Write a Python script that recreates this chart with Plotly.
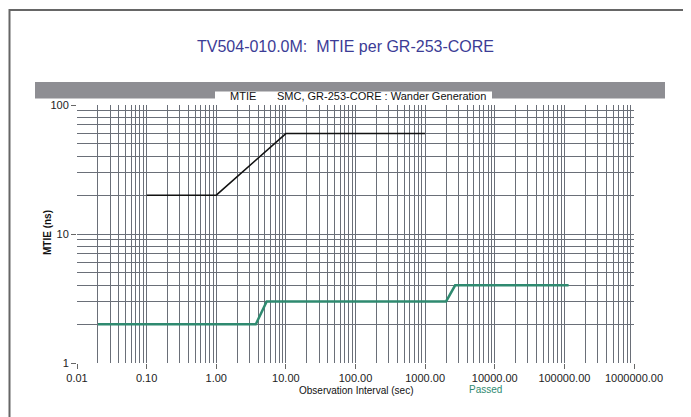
import plotly.graph_objects as go

# ---- data ----
limit_x = [0.1, 1.0, 10.0, 1000.0]
limit_y = [20, 20, 60, 60]

meas_x = [0.02, 3.7, 5.3, 2000.0, 2700.0, 115000.0]
meas_y = [2, 2, 3, 3, 4, 4]

x_tickvals = [0.01, 0.1, 1, 10, 100, 1000, 10000, 100000, 1000000]
x_ticktext = ["0.01", "0.10", "1.00", "10.00", "100.00", "1000.00",
              "10000.00", "100000.00", "1000000.00"]
y_tickvals = [1, 10, 100]
y_ticktext = ["1", "10", "100"]

FONT = "Liberation Sans, Arial, sans-serif"
GRID = "#6a6f78"
GREEN = "#2f8a70"

fig = go.Figure()
fig.add_trace(go.Scatter(x=limit_x, y=limit_y, mode="lines",
                         line=dict(color="#111111", width=1.5), hoverinfo="skip"))
fig.add_trace(go.Scatter(x=meas_x, y=meas_y, mode="lines",
                         line=dict(color=GREEN, width=2.5), hoverinfo="skip"))

OFF = 8  # page body margin
W, H = 691 - OFF, 417 - OFF
PL, PR, PT, PB = 77, 634, 105, 363  # plot area in reference pixels
L = PL - OFF
R = W - (PR - OFF)
T = PT - OFF
B = H - (PB - OFF)
pw, ph = PR - PL, PB - PT


def px(x):
    return (x - PL) / pw


def py(y):
    return (PB - y) / ph


fig.update_layout(
    width=W, height=H,
    margin=dict(l=L, r=R, t=T, b=B, pad=0),
    paper_bgcolor="white", plot_bgcolor="white",
    showlegend=False,
    font=dict(family=FONT, size=11, color="#222222"),
    xaxis=dict(
        type="log", range=[-2, 6],
        tickvals=x_tickvals, ticktext=x_ticktext,
        ticks="outside", ticklen=5, tickcolor="#666666", tickwidth=1,
        showgrid=True, gridcolor=GRID, gridwidth=1,
        minor=dict(dtick="D1", showgrid=True, gridcolor=GRID, gridwidth=1, ticks=""),
        zeroline=False, showline=False,
        tickfont=dict(size=11, color="#222222"),
    ),
    yaxis=dict(
        type="log", range=[0, 2],
        tickvals=y_tickvals, ticktext=y_ticktext,
        ticks="outside", ticklen=5, tickcolor="#666666", tickwidth=1,
        showgrid=True, gridcolor=GRID, gridwidth=1,
        minor=dict(dtick="D1", showgrid=True, gridcolor=GRID, gridwidth=1, ticks=""),
        zeroline=False, showline=False,
        tickfont=dict(size=11, color="#222222"),
    ),
    shapes=[
        # outer frame
        dict(type="rect", xref="paper", yref="paper",
             x0=px(9.5), x1=px(740), y0=py(470), y1=py(10),
             line=dict(color="#666666", width=2), fillcolor="rgba(0,0,0,0)", layer="below"),
        # header bar
        dict(type="rect", xref="paper", yref="paper",
             x0=px(35), x1=px(665), y0=py(98.5), y1=py(82),
             line=dict(width=0), fillcolor="#8e8e93", layer="above"),
        # white label box
        dict(type="rect", xref="paper", yref="paper",
             x0=px(215), x1=px(492), y0=py(99.5), y1=py(91.5),
             line=dict(width=0), fillcolor="white", layer="above"),
    ],
    annotations=[
        dict(text="TV504-010.0M:\u00a0 MTIE per GR-253-CORE", xref="paper", yref="paper",
             x=px(345), y=py(46), xanchor="center", yanchor="middle", showarrow=False,
             font=dict(size=16, color="#3c3c96", family=FONT)),
        dict(text="MTIE", xref="paper", yref="paper",
             x=px(228), y=py(96), xanchor="left", yanchor="middle", showarrow=False,
             font=dict(size=11, color="#111111", family=FONT)),
        dict(text="SMC, GR-253-CORE : Wander Generation", xref="paper", yref="paper",
             x=px(275), y=py(96), xanchor="left", yanchor="middle", showarrow=False,
             font=dict(size=11, color="#111111", family=FONT)),
        dict(text="Observation Interval (sec)", xref="paper", yref="paper",
             x=px(356), y=py(390), xanchor="center", yanchor="middle", showarrow=False,
             font=dict(size=10, color="#111111", family=FONT)),
        dict(text="<b>MTIE (ns)</b>", xref="paper", yref="paper", textangle=-90,
             x=px(47), y=py(233), xanchor="center", yanchor="middle", showarrow=False,
             font=dict(size=10, color="#111111", family=FONT)),
        dict(text="Passed", xref="paper", yref="paper",
             x=px(467), y=py(389), xanchor="left", yanchor="middle", showarrow=False,
             font=dict(size=10, color=GREEN, family=FONT)),
    ],
)

fig.write_html("out.html")
